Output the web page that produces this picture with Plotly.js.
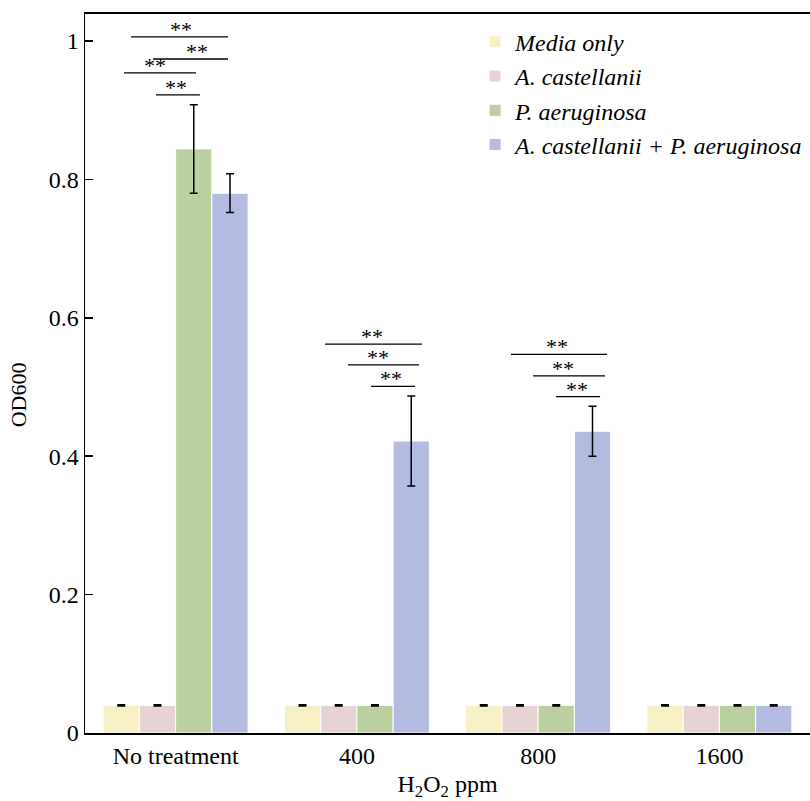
<!DOCTYPE html>
<html>
<head>
<meta charset="utf-8">
<script src="https://cdn.plot.ly/plotly-3.0.1.min.js"></script>
<style>html,body{margin:0;padding:0;background:#fff}#chart{width:810px;height:801px}</style>
</head>
<body>
<div id="chart"></div>
<script>
const categories = ["No treatment", "400", "800", "1600"];
const seriesNames = ["<i>Media only</i>", "<i>A. castellanii</i>", "<i>P. aeruginosa</i>", "<i>A. castellanii + P. aeruginosa</i>"];
const mediaOnly = [0.040, 0.040, 0.040, 0.040];
const castellanii = [0.040, 0.040, 0.040, 0.040];
const aeruginosa = [0.844, 0.040, 0.040, 0.040];
const combined = [0.780, 0.422, 0.436, 0.040];
const mediaOnlyErr = [0.001, 0.001, 0.001, 0.001];
const castellaniiErr = [0.001, 0.001, 0.001, 0.001];
const aeruginosaErr = [0.064, 0.001, 0.001, 0.001];
const combinedErr = [0.028, 0.065, 0.036, 0.001];
const colors = ["#f7f0c4", "#e8d3d3", "#bbd09f", "#b3bbe0"];

// significance brackets: [x0, x1, y, label x]
const sigLines = [
  [-0.246, 0.289, 1.006, 0.030],
  [-0.125, 0.289, 0.974, 0.118],
  [-0.285, 0.112, 0.954, -0.114],
  [-0.108, 0.134, 0.922, 0.002],
  [0.824, 1.359, 0.562, 1.083],
  [0.951, 1.343, 0.532, 1.117],
  [1.078, 1.321, 0.501, 1.188],
  [1.850, 2.380, 0.547, 2.104],
  [1.972, 2.369, 0.516, 2.137],
  [2.099, 2.342, 0.486, 2.215]
];
const sigLabel = "**";

const values = [mediaOnly, castellanii, aeruginosa, combined];
const errs = [mediaOnlyErr, castellaniiErr, aeruginosaErr, combinedErr];
const serif = "Liberation Serif";

const traces = values.map((v, i) => ({
  type: "bar",
  name: seriesNames[i],
  x: categories,
  y: v,
  legendgroup: "g" + i,
  marker: {color: colors[i], line: {color: "#ffffff", width: 1}},
  error_y: {type: "data", array: errs[i], visible: true, color: "#000", thickness: 1.5, width: 4}
}));

const shapes = sigLines.map(s => ({
  type: "line", xref: "x", yref: "y", x0: s[0], x1: s[1], y0: s[2], y1: s[2],
  line: {color: "#000", width: 1.3}
}));
const annotations = sigLines.map(s => ({
  xref: "x", yref: "y", x: s[3], y: s[2], text: sigLabel,
  showarrow: false, yanchor: "bottom", yshift: -7,
  font: {family: serif, size: 22, color: "#000"}
}));
annotations.push({
  xref: "paper", yref: "paper", x: -0.092, y: 0.47, xanchor: "center", yanchor: "middle",
  text: "OD600", textangle: -90, showarrow: false,
  font: {family: serif, size: 22, color: "#000"}
});

const layout = {
  width: 810, height: 801,
  margin: {l: 85, r: 0, t: 14, b: 68},
  paper_bgcolor: "#fff", plot_bgcolor: "#fff",
  font: {family: serif, size: 24, color: "#000"},
  barmode: "group", bargap: 0.2, bargroupgap: 0,
  showlegend: true,
  legend: {x: 0.538, y: 0.992, xanchor: "left", yanchor: "top", bgcolor: "rgba(0,0,0,0)",
           font: {family: serif, size: 24}, tracegroupgap: 0},
  xaxis: {
    type: "category", range: [-0.5, 3.5], showline: true, linecolor: "#000", linewidth: 2,
    mirror: true, ticks: "", showgrid: false, zeroline: false,
    tickfont: {family: serif, size: 24},
    title: {text: "H<sub>2</sub>O<sub>2</sub> ppm", font: {family: serif, size: 24}, standoff: 10}
  },
  yaxis: {
    range: [0, 1.039], showline: true, linecolor: "#000", linewidth: 1.5,
    ticks: "inside", ticklen: 8, tickwidth: 1.5, tickcolor: "#000",
    tickfont: {family: serif, size: 24},
    tickvals: [0, 0.2, 0.4, 0.6, 0.8, 1], ticktext: ["0", "0.2", "0.4", "0.6", "0.8", "1"],
    showgrid: false, zeroline: false
  },
  shapes: shapes,
  annotations: annotations
};

Plotly.newPlot("chart", traces, layout, {displayModeBar: false, staticPlot: true});
</script>
</body>
</html>
